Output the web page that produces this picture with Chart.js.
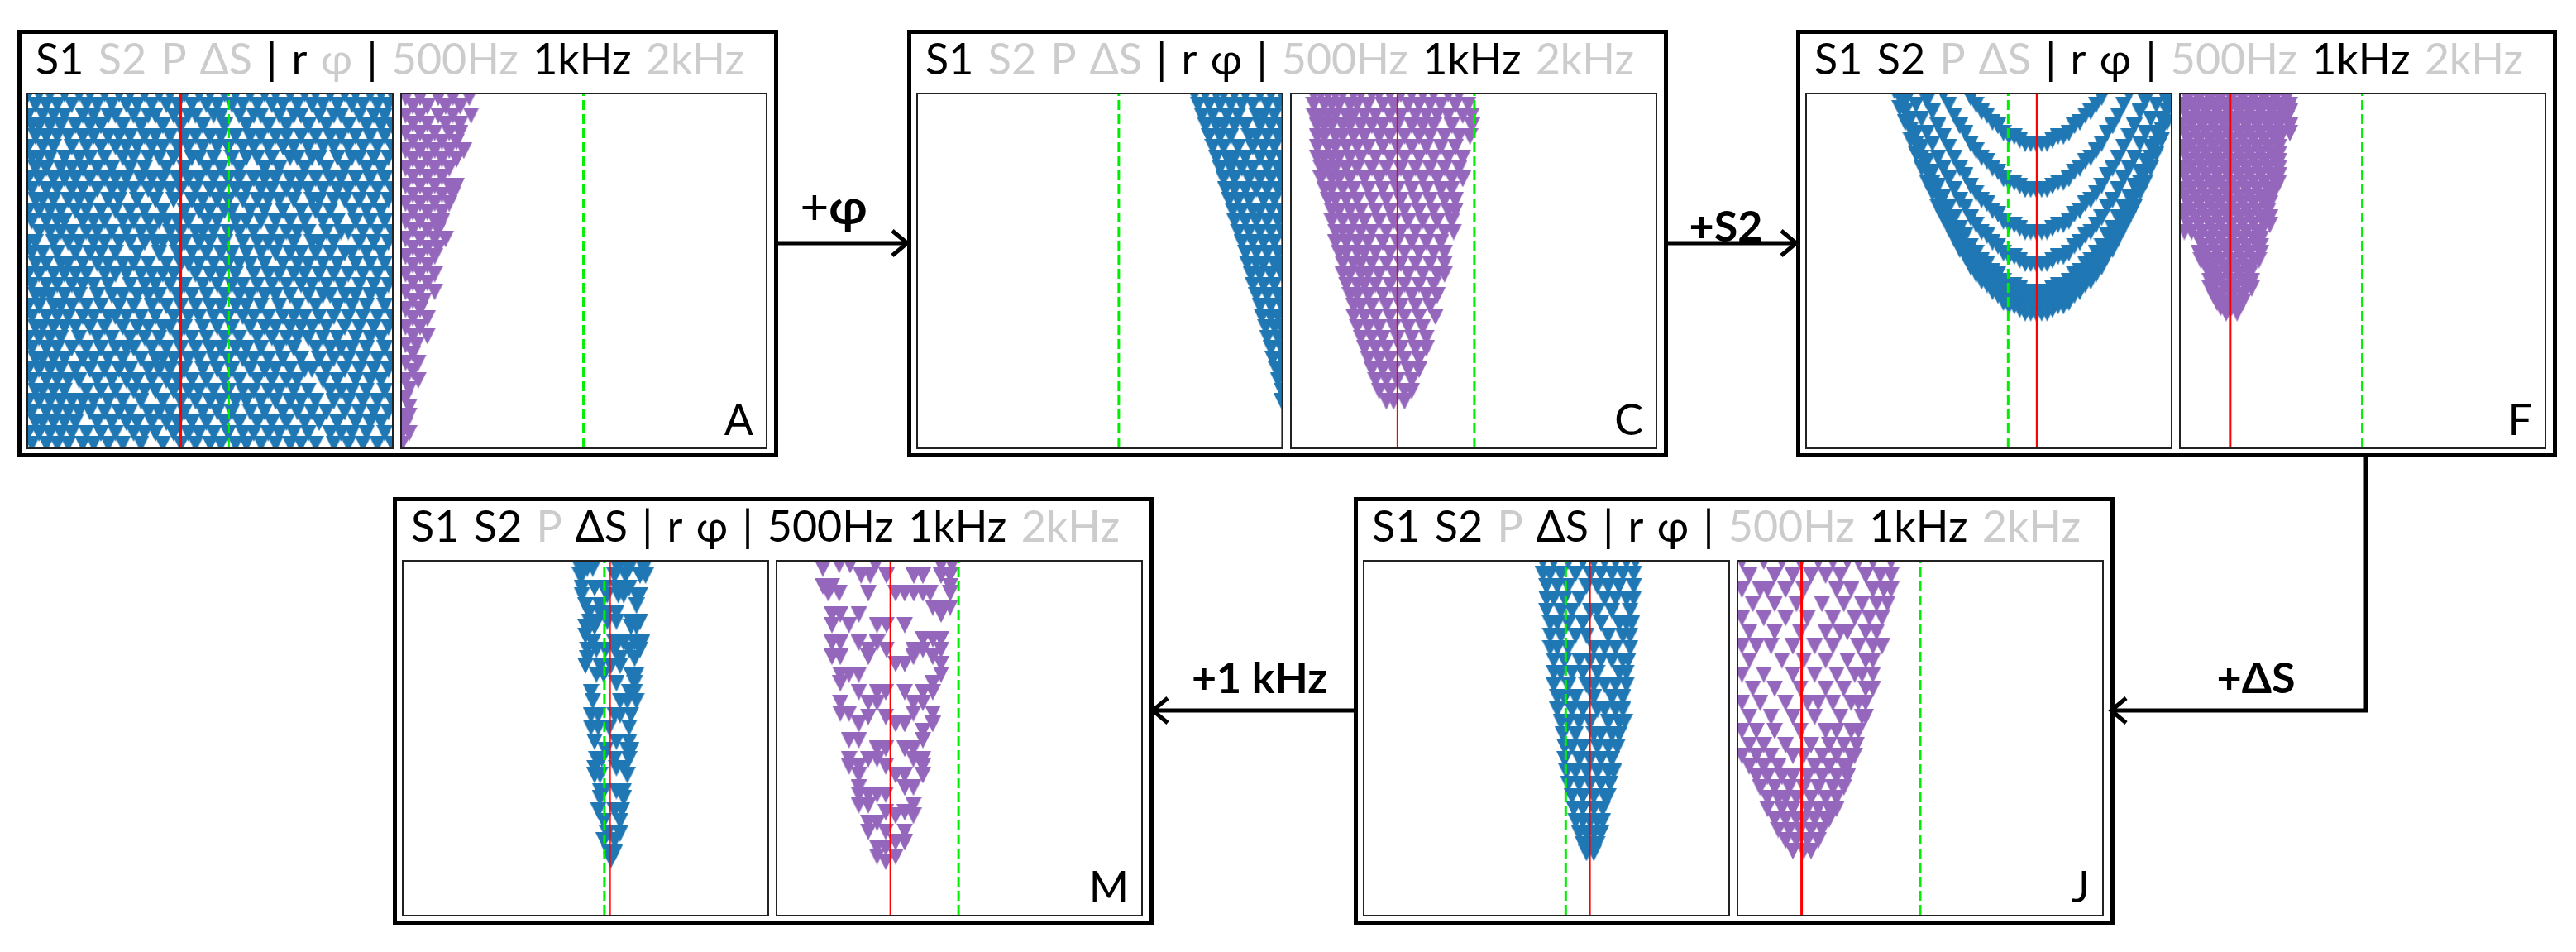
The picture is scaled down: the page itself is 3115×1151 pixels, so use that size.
<!DOCTYPE html>
<html>
<head>
<meta charset="utf-8">
<script src="https://cdn.jsdelivr.net/npm/chart.js@4/dist/chart.umd.min.js"></script>
<style>
  html, body { margin: 0; padding: 0; background: #fff; width: 3115px; height: 1151px; overflow: hidden; }
  body { position: relative; font-family: Lato, "Noto Sans", sans-serif; }
  .frame { position: absolute; box-sizing: border-box; border: 5px solid #000; width: 920px; height: 517px; }
  .plot { position: absolute; box-sizing: border-box; border: 2px solid #222; width: 444px; height: 431px; }
  .plot canvas { position: absolute; left: 0; top: 0; display: block; }
  .title { position: absolute; font-size: 52px; line-height: 60px; white-space: nowrap; color: #000; word-spacing: 4px; }
  .title .off { color: #ccc; }
  .letter { position: absolute; font-size: 52px; line-height: 60px; text-align: right; width: 60px; color: #000; }
  .step { position: absolute; font-size: 52px; line-height: 60px; font-weight: 700; white-space: nowrap; color: #000; transform: translate(-50%, -50%); }
  svg { position: absolute; left: 0; top: 0; }
</style>
</head>
<body>
<svg width="3115" height="1151" id="arrows"></svg>
<script>
// every row is [y, x, x, x ...], both axes run 0 to 100 inside a panel
const aBlue = [
  [100,0,3,6,10,14,17,21,25,28,32,36,39,43,47,50,54,57,61,65,68,72,76,79,83,87,90,94,97,100],
  [97,2,5,8,12,16,19,23,27,30,34,38,41,45,49,52,56,59,63,67,70,74,78,81,85,89,92,96,99],
  [94,0,4,7,10,15,18,22,24,29,33,35,40,44,46,51,53,58,62,64,69,73,75,80,84,86,91,95,98],
  [91,1,3,6,9,13,17,20,26,31,37,42,48,54,60,66,71,77,82,88,93,97,100],
  [88,2,5,8,11,15,18,22,25,28,32,35,39,43,46,50,53,57,61,64,68,71,75,79,83,86,90,94,98],
  [85,0,4,7,12,16,20,24,27,30,34,37,41,44,48,52,55,59,62,66,70,73,77,81,84,88,92,96,100],
  [82,1,3,6,10,14,17,21,26,29,33,36,40,45,47,51,56,60,63,67,72,74,78,80,85,89,91,95,99],
  [79,2,5,9,12,15,19,23,28,32,38,43,49,53,58,65,69,76,82,87,93,97],
  [76,0,3,7,10,13,17,21,24,27,31,34,37,41,44,47,51,55,58,62,65,68,72,75,79,83,86,90,94,98],
  [73,1,5,8,12,15,19,23,26,29,33,36,39,42,46,50,53,57,60,64,67,71,74,77,81,85,88,92,96,100],
  [70,2,4,7,11,14,17,22,25,30,35,40,45,48,52,55,59,63,66,69,73,78,80,84,87,91,95,99],
  [67,0,3,6,9,13,16,20,24,28,32,37,43,47,50,54,56,61,65,70,75,79,83,89,93,97],
  [64,1,5,8,10,15,18,21,26,29,33,36,38,41,44,49,52,57,60,64,68,72,76,81,85,90,94,98],
  [61,3,6,9,12,16,19,23,27,31,34,39,42,46,48,51,55,58,62,67,71,74,77,82,86,88,92,96,100],
  [58,0,2,7,11,14,18,21,25,28,32,35,37,40,43,47,50,54,59,63,66,69,73,78,80,84,91,95,99],
  [55,1,4,8,13,17,20,24,30,36,41,45,49,53,56,60,64,68,72,75,79,83,87,89,93,97],
  [52,2,5,9,11,15,19,22,26,29,33,38,42,44,47,51,55,58,61,65,70,74,77,81,85,90,94,98],
  [49,0,3,7,10,13,16,21,24,27,31,34,37,40,46,50,53,57,62,66,69,73,76,80,84,88,92,96,100],
  [46,1,5,8,12,15,18,22,28,32,35,39,43,48,52,56,59,63,67,71,75,78,82,86,91,95,99],
  [43,2,4,6,10,14,19,23,26,30,33,36,41,45,49,54,58,61,65,68,72,77,81,83,87,90,94,97],
  [40,0,3,7,9,12,16,20,25,29,34,38,42,46,50,53,57,60,64,69,74,79,85,89,93,98],
  [37,1,5,8,11,15,18,22,24,27,31,35,40,44,47,51,55,59,62,66,70,73,76,80,84,88,92,96,100],
  [34,2,4,7,10,13,17,21,26,30,33,37,39,43,48,52,56,61,65,68,72,75,78,82,87,91,95,99],
  [31,0,3,6,9,14,19,23,28,32,36,41,45,49,54,58,63,67,71,74,77,81,85,90,94,97],
  [28,1,5,8,12,16,20,24,27,29,34,38,42,46,50,53,57,60,64,69,73,79,83,86,89,93,98],
  [25,2,4,7,10,15,18,22,26,31,35,37,40,44,47,51,55,59,62,66,70,75,80,84,88,92,96,100],
  [22,0,3,6,9,13,17,21,25,28,33,36,39,43,48,52,56,61,65,68,72,76,78,82,87,91,95,99],
  [19,1,5,8,11,14,19,23,27,30,34,38,41,45,49,54,58,63,67,71,74,81,85,90,94,97],
  [16,2,4,7,10,16,20,24,29,32,35,40,44,47,51,55,59,62,66,69,73,77,83,86,89,93,98],
  [13,0,3,6,9,12,15,18,22,26,31,37,42,46,50,53,57,60,64,68,72,75,79,84,88,92,96,100],
  [10,1,5,8,11,14,17,21,25,28,33,36,39,43,48,52,56,61,65,70,74,78,82,87,91,95,99],
  [7,2,4,7,10,13,19,23,27,30,34,38,41,45,49,54,58,63,67,71,76,80,85,90,94,97],
  [4,0,3,6,9,12,16,20,24,29,32,35,40,44,47,51,55,59,62,66,69,73,77,83,86,89,93,98],
  [1,1,5,8,11,15,18,22,26,31,37,42,46,50,53,57,60,64,68,72,75,79,84,88,92,96,100]
];
const aPurple = [
  [99,1,5,10,14,18.5],[96.5,3,7,12,16],[94,1,5,10,14,19],[91.5,3,7,12,16],
  [89,1,5,9,13,16],[86.5,3,7,11,15],[84,1,5,9,13,17],[81.5,3,7,11,15],
  [79,1,5,9,13],[76.5,3,7,11],[74,1,5,9,13,15],[71.5,3,7,11,14],[69,1,5,9,13],[66.5,3,7,11],
  [64,1,5,9,11],[61.5,3,7,10],[59,1,5,9,12],[56.5,3,7,10],[54,1,5,9],[51.5,3,7],
  [49,1,5,9],[46.5,3,7],[44,1,5,9],[41.5,3,6],[39,1,5],[36.5,3,7],[34,1,5],[31.5,3,7],
  [29,1,4],[26.5,3],[24,1,4.5],[21.5,3],[19,1,4.5],[16.5,2],[14,1],[11.5,2],[9,0,2],[6.5,1],[4,0,2],[1,0]
];
const cBlue = [
  [100,76,79,82,84,87,90,94,97,100],[97,77,80,83,86,89,92,96,99],[94,78,81,85,88,93,95,98],
  [91,79,82,84,87,90,94,97,100],[88,80,83,86,91,93,96,99],[85,81,84,88,92,95,98],
  [82,82,85,87,90,94,97,100],[79,83,86,89,92,96,99],[76,84,87,91,94,97,100],
  [73,84.5,87,90,93,96,99],[70,85.5,88,91,95,98],[67,86.5,89,92,94,97,100],
  [64,87,90,93,96,99],[61,88,91,94,97,100],[58,89,92,95,98],[55,90,93,96,99],
  [52,90.5,93,95,98,100],[49,91.5,94,97,100],[46,92,95,98],[43,93,96,99],
  [40,94,97,100],[37,94.5,97,99],[34,95.5,98,100],[31,96,99],[28,97,100],
  [25,97.5,100],[22,98.5,100],[19,99],[16,100],[13,100]
];
const cPurple = [
  [100,6,8,10,12,14,17,19,22,24,27,30,33,36,39,43,46],
  [97,6,9,11,13,16,18,21,25,28,32,35,38,41,45,48.5],
  [94,6,8,10,12,15,17,20,23,27,30,34,37,40,43,47,49.5],
  [91,7,9,11,14,16,19,22,25,29,33,36,39,44,49.5],
  [88,7,9,12,14,17,20,24,27,31,35,38,42,46,49],
  [85,7,10,12,15,18,21,25,29,33,37,41,45],
  [82,7,9,11,13,16,19,23,27,31,35,39,43,47],
  [79,8,10,12,15,18,22,26,30,34,38,42,46],
  [76,8,11,13,16,20,24,28,32,36,40,44,47],
  [73,9,11,14,17,21,25,29,33,37,41,44],
  [70,10,12,15,18,22,26,30,34,38,42,45],
  [67,11,13,16,19,23,27,31,35,39,43,45],
  [64,11,14,17,20,24,28,32,36,40,44],
  [61,12,14,16,19,22,26,30,34,38,42,44.5],
  [58,12,15,18,21,25,29,33,37,41],
  [55,13,15,18,20,23,27,31,35,39,42],
  [52,14,17,19,22,26,30,34,38,42],
  [49,14,16,19,21,24,28,32,36,40,42],
  [46,15,18,20,23,27,31,35,39],
  [43,16,18,21,25,29,33,37,40],
  [40,17,19,22,26,30,34,38],
  [37,17,20,23,27,31,35,39.5],
  [34,18,21,24,28,32,36],
  [31,19,22,25,29,33,37],
  [28,20,23,26,30,34,37],
  [25,21,24,27,31,35],
  [22,22,25,28,32,35],
  [19,23,26,29,33],
  [16,24,27,31,33],
  [13,26,28,31]
];
// F left is read in columns: [x, y, y, y ...] along the nested arcs
const fBlueColumns = [
  [63,86,73,61,52,44,41,38],[61.5,86,73,61,52,44,41,38],[64.5,86,73,61,52,44,41,38],
  [60,86,73,61,52,44,41,38],[66,86,73,61,52,44,41,38],[58.5,87,74,62,53,45,42,39],[67.5,87,74,62,53,45,42,39],
  [57,88,75,63,54,46,43,40],[69,88,75,63,54,46,43,40],[55.5,88,75,63,54,46,43,40],[70.5,88,75,63,54,46,43,40],
  [54,89,76,64,55,47,44,41],[72,89,76,64,55,47,44,41],[52.5,91,78,66,57,49,46,43],[73.5,91,78,66,57,49,46,43],
  [51,92,79,67,58,50,47,44],[75,92,79,67,58,50,47,44],[49.5,94,81,69,60,52,49,46],[76.5,94,81,69,60,52,49,46],
  [48,95,82,70,61,53,50,47],[78,95,82,70,61,53,50,47],[46.5,97,84,72,63,55,52,49],[79.5,97,84,72,63,55,52,49],
  [45,99,86,74,65,57,54,51],[81,99,86,74,65,57,54,51],[43.5,102,89,77,68,60,57,54],[82.5,102,89,77,68,60,57,54],
  [42,91,79,70,62,59,56],[84,91,79,70,62,59,56],[40.5,94,82,73,65,62,59],[85.5,94,82,73,65,62,59],
  [39,97,85,76,68,65,62],[87,97,85,76,68,65,62],[37.5,100,88,79,71,68,65],[88.5,100,88,79,71,68,65],
  [36,103,91,82,74,71,68],[90,103,91,82,74,71,68],[34.5,95,86,78,75,72],[91.5,95,86,78,75,72],
  [33,98,89,81,78,75],[93,98,89,81,78,75],[31.5,102,93,85,82,79],[94.5,102,93,85,82,79],
  [30,97,89,86,83],[96,97,89,86,83],[28.5,101,93,90,87],[97.5,101,93,90,87],
  [27,98,95,92],[99,98,95,92],[25.5,102,99,96],[100.5,102,99,96],[24,101]
];
const fPurple = [
  [101,1,4,7,10,13,16,19,22,25,28,30],[99,2,5,8,11,14,17,20,23,26,29],[97,0,3,6,9,12,15,18,21,24,27,30],
  [95,1,4,7,10,13,16,19,22,25,28,30],[93,2,5,8,11,14,17,20,23,26,29],[91,0,3,6,9,12,15,18,21,24,27,30],
  [89,1,4,7,10,13,16,19,22,25,28,30],[87,2,5,8,11,14,17,20,23,26,27],[85,0,3,6,9,12,15,18,21,24,27],
  [83,1,4,7,10,13,16,19,22,25,27],[81,2,5,8,11,14,17,20,23,26,27],[79,0,3,6,9,12,15,18,21,24,27],
  [77,1,4,7,10,13,16,19,22,25,27],[75,2,5,8,11,14,17,20,23,26,27],[73,0,3,6,9,12,15,18,21,24,26],
  [71,1,4,7,10,13,16,19,22,24.5],[69,2,5,8,11,14,17,20,23,24.5],[67,0,3,6,9,12,15,18,21,24],
  [65,1,4,7,10,13,16,19,22,24.5],[63,2,5,8,11,14,17,20,23,24.5],[61,1,3,6,9,12,15,18,21,22],
  [59,5,8,11,14,17,20,22],[57,6,9,12,15,18,21,22],[55,5,7,10,13,16,19,22],[53,5.5,8,11,14,17,20,21.5],
  [51,7,9,12,15,18,19.5],[49,8,10,13,16,19],[47,8,11,14,17,19.5],[45,8,9,12,15,18,19.5],
  [43,9,11,14,17],[41,10,13,16,17],[39.5,11,14,16],[38,12.5,15.5]
];
const jBlue = [
  [100,49,52,56,60,63,66,69,72,74.5],[96.5,49,51,54,58,62,65,68,71,74],[93,50,53,56,61,64,67,70,74],
  [89.5,50,52,55,59,66,69,72,74],[86,50,54,57,62,64,68,73],[82.5,51,53,56,60,65,70,72,73.5],
  [79,51,54,58,61,67,71,73],[75.5,51,53,56,63,66,69,73],[72,52,55,59,62,65,68,71,72.5],
  [68.5,52,54,57,60,64,70,72],[65,52,56,61,63,66,69,72],[61.5,53,55,58,63,68,71],
  [58,53,57,60,64,66,69,71],[54.5,54,56,59,62,67,70,71.5],[51,54.5,58,63,65,68,70],
  [47.5,55,57,60,64,67,69.5],[44,55,59,62,65,68],[40.5,55.5,58,61,64,67,68.5],
  [37,56,59,62,65,67.5],[33.5,57,60,63,66,67],[30,57.5,60,63,65.5],[26.5,58,60,62,64,65.5],
  [23,59,61,63,65],[20,60,62,64],[17.5,61,63]
];
const jPurple = [
  [100,1,7,12,17,22,26,30,33,37,42],[96,3,10,15,20,24,28,35,39,42],
  [92,1,6,8,13,18,27,31,37,40,42],[88,4,10,16,23,29,34,38,41],
  [84,1,7,13,19,26,32,36,39.5],[80,3,10,17,24,28,30,35,38],
  [76,1,5,9,15,21,26,33,37,39.5],[72,3,12,18,24,30,35,37],
  [68,1,7,15,21,27,32,34,37],[64,4,10,17,24,29,35,37],
  [60,1,6,13,19,22,26,31,33,35],[56,3,9,15,21,28,34,35],
  [52,1,5,10,17,24,27,31,33],[48,3,7,13,20,25,29,32.5],
  [45,1,5,9,15,18,23,27,31,32],[42,3,7,11,21,25,29,30],
  [39,5,8,12,15,19,23,27,30],[36,6,10,14,18,22,26,29],
  [33,8,11,13,16,20,24,27],[30,8,12,15,19,22,25,27],
  [27,10,13,16,18,21,24,25],[24,11,14,17,20,23],
  [21,13,16,19,22],[18,15,18,20]
];
const mBlue = [
  [98,48.5,50.5,52,59,62,66],[96,48.5,49,58,61,65,66.5],[92.5,49,52.5,55,58.5,60.5,62],
  [90.5,49,56,59,60.5,64,65],[87.5,50,54,64],[85.5,51,54,56,58.5],
  [83,51,53,56,58.5,62.5,65],[81.5,50,52.5,62.5,64],[79,50],[77,52,58,60.5,63.5,65.5],
  [75,50.5,53,55.5,58,62,65],[72.5,50.5,59.5,63.5],[70.5,50,54,57,59.5],[68,53,55,62.5,64],
  [65.5,58.5,63.5],[63,51.5,62,63.5],[60.5,52,59.5,61.5,64],[56.5,51.5,53.5,58,59.5,62.5],
  [53,51.5,53.5,56.5,62],[49,52.5,58.5,62],[46.5,55.5,61.5,62.5],[44,53,54.5,58,62],
  [41.5,52.5,58.5,60.5],[39.5,52.5,54,61.5],[35,54,55,58.5,60.5],[33,54,60.5],
  [29.5,53.5,58,60],[26.5,55,59.5],[23,56,59.5],[21,55,58],[17.5,56.5,58],[15.5,57]
];
const mPurple = [
  [99,17,20,27,45,48],[98,12.5],[96,23,25.5,30,37.5,40,45,47.5],[93,12.5,15,47.5],
  [91,14,17,25,32.5,35,37.5,40,42,47.5],[87,42.7,45,47.5],[85,17.3,22.4,15,45],
  [82,19.7,15,30,27.4,35],[78,40,42.7,45],[77,15,17.3,22.4,27.4],[75,37.4,40,25,30,45],
  [73,15,17.3,25,37.4,42.7],[71,32.5,35,45],[68,17.3,19.7,22.4,45],[65.5,17.3,42.7],
  [63,22.4,27.4,29.8,35,40,42.7],[60,37.4,40,17.3,27.4,25],[57,17.3,19.7,37.4,42.7],
  [56,25,29.8],[54,22.4,32.5,35,42.7],[52,40],[49.4,19.7,22.4,40],[47,27.4,29.8,35,37.4],
  [44,19.7,25,27.4,37.4,40],[42,22.4,19.7,29.8,40],[39.5,22.4,32.5,35,40],
  [36,22.4,35,37.4],[34,22.4,25,27.4,29.8],[31,22.4,25,37.4],[29,29.8,35],[28,32.5,37.4],
  [26,25,27.4],[23.5,25,29.8,35],[20.5,32.5,35],[19,27.4,29.8],[16.5,27.4,32.5],[15,29.8]
];

const titleTokens = ["S1", "S2", "P", "ΔS", "|", "r", "φ", "|", "500Hz", "1kHz", "2kHz"];
const panelLetters = ["A", "C", "F", "J", "M"];
const activeTokens = [
  ["S1", "|", "r", "1kHz"],
  ["S1", "|", "r", "φ", "1kHz"],
  ["S1", "S2", "|", "r", "φ", "1kHz"],
  ["S1", "S2", "ΔS", "|", "r", "φ", "1kHz"],
  ["S1", "S2", "ΔS", "|", "r", "φ", "500Hz", "1kHz"]
];
// where the red and the green reference lines sit on the x axis of each panel
const redLines = [[41.9, null], [100, 29], [63.2, 13.6], [61.9, 17.4], [56.8, 31]];
const greenLines = [[55.2, 49.9], [55.2, 50.2], [55.3, 49.9], [55.3, 50], [55.2, 49.8]];
const leftRows = [aBlue, cBlue, null, jBlue, mBlue];
const rightRows = [aPurple, cPurple, fPurple, jPurple, mPurple];

const BLUE = "#1f77b4", PURPLE = "#9467bd", RED = "#ff0000", GREEN = "#00ee00";

function rowsToPoints(rows) {
  const pts = [];
  rows.forEach(r => r.slice(1).forEach(x => pts.push({ x: x, y: r[0] })));
  return pts;
}
function columnsToPoints(cols) {
  const pts = [];
  cols.forEach(c => c.slice(1).forEach(y => pts.push({ x: c[0], y: y })));
  return pts;
}
function triangleMarker(color) {
  const c = document.createElement("canvas");
  c.width = 20; c.height = 20;
  const g = c.getContext("2d");
  g.fillStyle = color;
  g.beginPath(); g.moveTo(0, 0); g.lineTo(20, 0); g.lineTo(10, 20); g.closePath(); g.fill();
  return c;
}
const markers = { blue: triangleMarker(BLUE), purple: triangleMarker(PURPLE) };

function vline(x, color, width, dash) {
  return {
    data: x === null || x === undefined ? [] : [{ x: x, y: 0 }, { x: x, y: 100 }],
    showLine: true, borderColor: color, borderWidth: width, borderDash: dash || [],
    pointRadius: 0, clip: 0
  };
}
function drawPanel(left, top, points, marker, redX, greenX, redW, greenW) {
  const box = document.createElement("div");
  box.className = "plot";
  box.style.left = left + "px";
  box.style.top = top + "px";
  const cv = document.createElement("canvas");
  cv.width = 440; cv.height = 427;
  box.appendChild(cv);
  document.body.appendChild(box);
  new Chart(cv, {
    type: "scatter",
    data: {
      datasets: [
        vline(redX, RED, redW),
        vline(greenX, GREEN, greenW, [12, 5]),
        { data: points, pointStyle: marker, pointRadius: 10, clip: 0, showLine: false }
      ]
    },
    options: {
      responsive: false,
      animation: false,
      events: [],
      layout: { padding: 0, autoPadding: false },
      plugins: { legend: { display: false }, tooltip: { enabled: false } },
      scales: {
        x: { type: "linear", min: 0, max: 100, display: false },
        y: { type: "linear", min: 0, max: 100, display: false }
      }
    }
  });
}

const frameBoxes = [[21, 36], [1097, 36], [2172, 36], [1637, 601], [475, 601]];
frameBoxes.forEach((f, i) => {
  const frame = document.createElement("div");
  frame.className = "frame";
  frame.style.left = f[0] + "px";
  frame.style.top = f[1] + "px";
  document.body.appendChild(frame);

  const title = document.createElement("div");
  title.className = "title";
  title.style.left = (f[0] + 22) + "px";
  title.style.top = (f[1] + 4) + "px";
  title.innerHTML = titleTokens.map(t =>
    activeTokens[i].includes(t) ? t : '<span class="off">' + t + "</span>"
  ).join(" ");
  document.body.appendChild(title);

  const letter = document.createElement("div");
  letter.className = "letter";
  letter.textContent = panelLetters[i];
  letter.style.left = (f[0] + 830) + "px";
  letter.style.top = (f[1] + 440) + "px";
  document.body.appendChild(letter);

  const leftPts = leftRows[i] ? rowsToPoints(leftRows[i]) : columnsToPoints(fBlueColumns);
  const redW = [3.5, 1.5, 2.5, 2.5, 1.5][i];
  drawPanel(f[0] + 11, f[1] + 76, leftPts, markers.blue, redLines[i][0], greenLines[i][0], redW, i === 0 ? 2 : 3);
  drawPanel(f[0] + 463, f[1] + 76, rowsToPoints(rightRows[i]), markers.purple, redLines[i][1], greenLines[i][1], i === 1 || i === 4 ? 1.5 : 3, 3);
});

// connectors between the frames
const svg = document.getElementById("arrows");
function arrow(points) {
  const tip = points[points.length - 1], prev = points[points.length - 2];
  const d = prev[0] < tip[0] ? -1 : 1;
  const line = document.createElementNS("http://www.w3.org/2000/svg", "polyline");
  line.setAttribute("points", points.map(p => p.join(",")).join(" "));
  line.setAttribute("fill", "none"); line.setAttribute("stroke", "#000"); line.setAttribute("stroke-width", "5");
  svg.appendChild(line);
  const head = document.createElementNS("http://www.w3.org/2000/svg", "polyline");
  head.setAttribute("points", [[tip[0] + d * 18, tip[1] - 15], tip, [tip[0] + d * 18, tip[1] + 15]].map(p => p.join(",")).join(" "));
  head.setAttribute("fill", "none"); head.setAttribute("stroke", "#000"); head.setAttribute("stroke-width", "5");
  svg.appendChild(head);
}
arrow([[941, 294], [1097, 294]]);
arrow([[2014, 294], [2172, 294]]);
arrow([[2861, 553], [2861, 859], [2553, 859]]);
arrow([[1637, 859], [1394, 859]]);

[["+", 1008, 248, "φ"], ["+S2", 2087, 272], ["+ΔS", 2728, 818], ["+1 kHz", 1523, 818]].forEach(s => {
  const el = document.createElement("div");
  el.className = "step";
  el.style.left = s[1] + "px";
  el.style.top = s[2] + "px";
  if (s[3]) el.style.fontSize = "60px";
  el.innerHTML = s[3] ? '<span style="font-weight:400">' + s[0] + "</span>" + s[3] : s[0];
  document.body.appendChild(el);
});
</script>
</body>
</html>
